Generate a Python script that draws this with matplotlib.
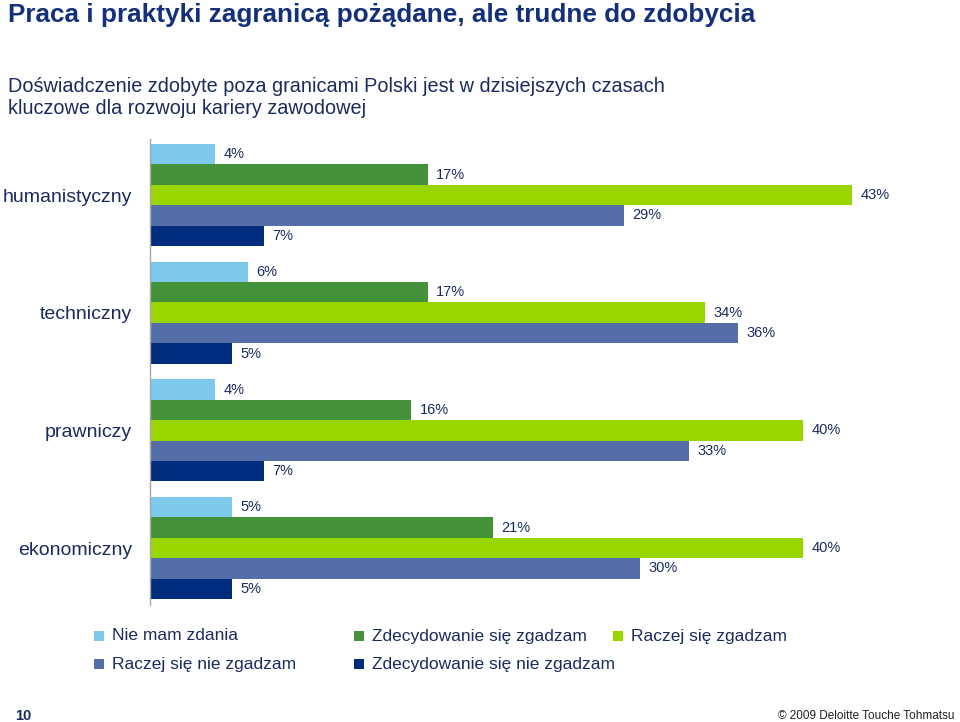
import matplotlib
matplotlib.use("Agg")
import matplotlib.pyplot as plt
from matplotlib.patches import Rectangle

plt.rcParams['font.family'] = ['Liberation Sans', 'DejaVu Sans']

categories = ["humanistyczny", "techniczny", "prawniczy", "ekonomiczny"]
series_names = ["Nie mam zdania", "Zdecydowanie się zgadzam", "Raczej się zgadzam",
                "Raczej się nie zgadzam", "Zdecydowanie się nie zgadzam"]
values = {
    "Nie mam zdania":               [4, 6, 4, 5],
    "Zdecydowanie się zgadzam":     [17, 17, 16, 21],
    "Raczej się zgadzam":           [43, 34, 40, 40],
    "Raczej się nie zgadzam":       [29, 36, 33, 30],
    "Zdecydowanie się nie zgadzam": [7, 5, 7, 5],
}
colors = ["#7DC9E9", "#43923A", "#99D600", "#546FA7", "#002C7D"]

title = "Praca i praktyki zagranicą pożądane, ale trudne do zdobycia"
subtitle = "Doświadczenie zdobyte poza granicami Polski jest w dzisiejszych czasach\nkluczowe dla rozwoju kariery zawodowej"
page_no = "10"
footer = "© 2009 Deloitte Touche Tohmatsu"

TXT = "#1A2B5E"
TITLE_C = "#15307A"

W, H = 960, 722
fig = plt.figure(figsize=(W / 100, H / 100), dpi=100)
fig.patch.set_facecolor("white")

ax = fig.add_axes([150 / W, (H - 605) / H, 735 / W, 466 / H])
bh = 0.1734
for j, name in enumerate(series_names):
    ys = [i + (j - 2) * bh for i in range(len(categories))]
    ax.barh(ys, values[name], height=bh, color=colors[j], linewidth=0)
    for y, v in zip(ys, values[name]):
        ax.annotate(f"{v}%", xy=(v, y), xytext=(6, 0), textcoords="offset points",
                    ha="left", va="center", fontsize=10.5, color=TXT, clip_on=False)

ax.set_xlim(0, 45)
ax.set_ylim(3.484, -0.476)
ax.set_xticks([])
ax.set_yticks(range(len(categories)))
ax.set_yticklabels(categories, fontsize=14, color=TXT)
ax.tick_params(axis="y", length=0, pad=13)
for s in ["top", "right", "bottom"]:
    ax.spines[s].set_visible(False)
ax.spines["left"].set_color("#A8A8A8")
ax.spines["left"].set_linewidth(1.0)

fig.text(8 / W, 1 - 15 / H, title, fontsize=18.8, fontweight="bold", color=TITLE_C,
         ha="left", va="center")
fig.text(8 / W, 1 - 97 / H, subtitle, fontsize=14.3, color=TXT, ha="left", va="center",
         linespacing=1.2)

# legend (row-major, fixed columns)
leg_pos = [(99, 636), (359, 636), (618, 636), (99, 664), (359, 664)]
for (px, py), name, c in zip(leg_pos, series_names, colors):
    fig.patches.append(Rectangle(((px - 5) / W, 1 - (py + 5) / H), 10 / W, 10 / H,
                                 transform=fig.transFigure, color=c, linewidth=0))
    fig.text((px + 13) / W, 1 - py / H, name, fontsize=12.5, color=TXT,
             ha="left", va="center")

fig.text(15 / W, 1 - 716 / H, page_no, fontsize=10.5, fontweight="bold", color=TXT,
         ha="left", va="center")
fig.text(955 / W, 1 - 716 / H, footer, fontsize=8.5, color="#222222",
         ha="right", va="center")

fig.savefig("out.png", dpi=100, facecolor="white")
